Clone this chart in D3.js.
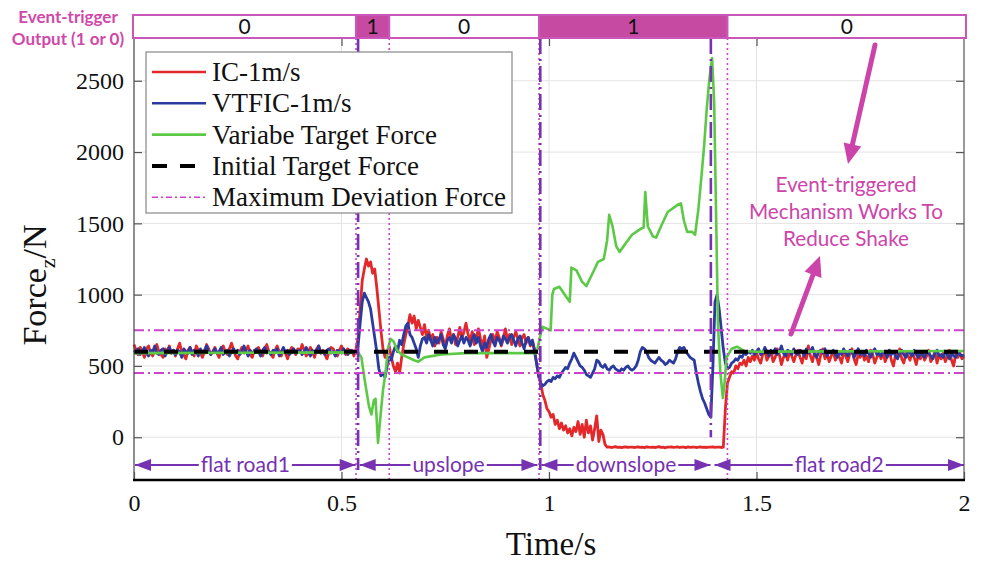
<!DOCTYPE html>
<html><head><meta charset="utf-8">
<script src="https://cdn.jsdelivr.net/npm/d3@7"></script>
<style>html,body{margin:0;padding:0;background:#fff;}svg{display:block;}</style>
</head><body>
<svg id="chart" width="981" height="563"></svg>
<script>
// Vertical contact force, sampled every 5 ms
const sampleStep = 0.005;

// IC controller, 1 m/s
const icForce = [
 650,610,580,630,600,560,620,640,590,570,610,650,600,580,560,620,600,640,590,610,
 570,620,660,600,580,550,610,630,600,570,640,610,590,560,600,650,620,580,600,630,
 590,560,610,640,600,580,620,660,610,570,550,600,630,590,610,640,580,560,610,600,
 630,590,570,620,650,600,580,560,610,640,600,570,620,590,550,600,630,610,580,620,
 600,650,610,570,590,630,600,560,620,640,590,610,580,550,600,630,620,590,570,610,
 640,600,580,620,590,610,570,620,700,900,1100,1180,1250,1200,1230,1150,1180,1050,900,750,
 620,560,600,640,560,500,460,520,450,560,650,720,780,860,800,850,760,820,770,720,
 790,700,750,680,720,640,700,660,740,690,630,710,760,680,720,650,700,770,690,740,
 800,720,680,740,650,700,760,690,640,710,560,620,680,720,660,740,700,640,690,760,
 680,720,650,700,740,690,640,700,720,660,700,640,680,620,520,430,380,300,260,200,
 180,140,160,90,120,60,100,50,80,30,60,10,70,40,110,20,90,0,120,30,
 80,-20,60,150,-30,50,20,-50,-70,-68,-72,-70,-66,-71,-69,-73,-70,-67,-71,-70,
 -69,-72,-70,-67,-71,-70,-73,-68,-70,-71,-69,-72,-70,-66,-71,-70,-74,-69,-70,-68,
 -71,-70,-67,-72,-69,-70,-73,-68,-71,-70,-69,-72,-70,-67,-71,-70,-72,-69,-70,-68,
 -71,-70,-69,-72,-70,200,380,420,460,450,500,480,520,510,540,500,560,530,570,540,
 590,550,520,580,610,540,570,600,530,560,620,580,510,560,590,540,600,570,530,580,
 610,560,520,590,550,640,570,530,600,560,510,580,620,550,590,530,570,600,540,580,
 560,520,600,570,530,590,620,550,510,580,560,600,540,570,530,610,580,520,560,590,
 550,600,530,570,610,540,500,580,560,620,550,520,590,570,540,600,560,510,580,550,
 590,540,570,610,530,560,600,520,580,550,590,530,570,610,540,500,580,560,590,550,
 570
];

// VTFIC controller, 1 m/s
const vtficForce = [
 610,590,620,580,600,630,590,570,610,600,640,590,580,610,620,570,600,630,590,610,
 580,610,600,560,620,600,590,630,580,610,600,570,620,590,610,640,600,580,600,620,
 590,600,630,580,600,610,570,600,620,590,610,580,600,640,600,570,610,590,600,620,
 600,570,610,630,590,600,580,610,600,620,570,600,630,590,610,580,600,620,590,600,
 610,580,600,630,600,570,610,590,600,640,590,600,580,610,620,590,600,570,610,600,
 590,620,600,580,610,600,590,600,640,800,950,1010,980,950,900,800,700,600,480,430,
 450,420,500,560,540,600,640,600,680,650,720,780,800,720,700,660,620,560,640,690,
 700,660,720,680,640,700,660,690,720,650,620,680,700,660,720,690,640,680,710,660,
 700,680,640,690,720,660,700,640,600,660,630,690,720,670,640,700,680,650,710,690,
 660,700,720,680,640,690,710,660,620,680,700,650,680,600,520,430,380,360,370,390,
 400,390,420,410,430,420,450,470,490,480,520,550,590,560,530,500,490,470,440,430,
 420,450,480,540,530,500,490,510,480,470,490,500,480,470,460,480,470,490,500,480,
 470,480,500,540,600,630,620,600,560,540,530,520,540,560,540,530,510,520,540,530,
 520,550,600,630,620,630,600,580,560,550,540,450,380,320,270,240,200,160,140,500,
 950,1000,900,760,620,520,480,490,520,530,550,540,570,560,590,580,600,590,610,580,
 600,620,580,590,630,600,570,610,590,620,580,600,640,590,570,610,600,580,620,590,
 580,610,600,570,620,590,600,630,580,560,600,610,590,620,570,600,590,610,580,560,
 600,580,620,590,570,610,600,560,590,620,580,600,570,610,590,560,600,620,580,590,
 570,600,590,560,610,580,600,570,550,590,610,580,560,600,590,570,610,580,560,590,
 580,560,600,590,570,550,590,610,570,580,560,600,580,550,590,570,560,600,580,570,
 580
];

// Variable target force (time in s, force in N)
const targetTime = [
 0,0.54,0.548,0.556,0.566,0.572,0.578,0.582,0.588,0.594,0.6,0.606,0.612,0.618,0.626,0.634,0.645,0.66,0.675,0.685,
 0.7,0.74,0.8,0.97,0.978,0.984,0.996,1.004,1.008,1.012,1.025,1.04,1.05,1.054,1.066,1.08,1.09,1.105,1.118,1.132,
 1.14,1.145,1.153,1.162,1.17,1.185,1.2,1.22,1.228,1.232,1.238,1.25,1.258,1.27,1.286,1.31,1.318,1.325,1.333,1.345,
 1.352,1.36,1.368,1.374,1.38,1.386,1.393,1.398,1.403,1.407,1.413,1.419,1.423,1.428,1.44,1.453,1.47,1.5,2
];
const targetForce = [
 590,595,560,400,220,160,260,270,-40,150,330,450,620,690,670,610,580,560,540,530,
 560,580,590,590,700,775,760,750,1000,1040,1055,990,950,1190,1170,1090,1060,1150,1230,1250,
 1380,1560,1480,1340,1300,1360,1420,1460,1470,1720,1480,1410,1400,1480,1580,1630,1640,1520,1440,1440,
 1420,1600,1850,2050,2300,2500,2660,2350,1500,800,450,275,380,560,620,635,605,600,605
];

const initialTarget = 600;
const deviationForces = [450, 750];

const xTicks = [0, 0.5, 1, 1.5, 2];
const yTicks = [0, 500, 1000, 1500, 2000, 2500];

// Event-trigger output strip
const triggerBounds = [0, 0.535, 0.615, 0.976, 1.43, 2];
const triggerStates = [0, 1, 0, 1, 0];
const triggerLines = [0.535, 0.615, 0.976, 1.43];

// Road-condition change instants
const eventLines = [0.54, 0.979, 1.39];
const roadNames = ["flat road1", "upslope", "downslope", "flat road2"];
const roadBounds = [0, 0.539, 0.977, 1.394, 2];

const legendItems = ["IC-1m/s", "VTFIC-1m/s", "Variabe Target Force", "Initial Target Force", "Maximum Deviation Force"];

// ---------------------------------------------------------------
const C = {
  red: "#e3282a", blue: "#2b3a9e", green: "#5cc946", black: "#000",
  magenta: "#cc44cc", purple: "#7632b0", pink: "#cc44aa", barFill: "#c64aa2", barEdge: "#cc55bb"
};
const serif = "'Liberation Serif','Times New Roman',serif";
const sans = "Lato,'Open Sans',sans-serif";

const svg = d3.select("#chart");
const pL = 134, pR = 964, pT = 38, pB = 480;
const x = d3.scaleLinear().domain([0, 2]).range([pL, pR]);
const y = d3.scaleLinear().domain([-300, 2800]).range([pB, pT]);

// grid
const g = svg.append("g");
g.selectAll(".gy").data(yTicks).join("line")
  .attr("x1", pL).attr("x2", pR).attr("y1", d => y(d)).attr("y2", d => y(d))
  .attr("stroke", "#e3e3e3").attr("stroke-width", 1);
g.selectAll(".gx").data(xTicks.slice(1, -1)).join("line")
  .attr("x1", d => x(d)).attr("x2", d => x(d)).attr("y1", pT).attr("y2", pB)
  .attr("stroke", "#e3e3e3").attr("stroke-width", 1);

// series
const icData = icForce.map((v, i) => [i * sampleStep, v]);
const vtData = vtficForce.map((v, i) => [i * sampleStep, v]);
const tgData = targetTime.map((t, i) => [t, targetForce[i]]);
const line = d3.line().x(d => x(d[0])).y(d => y(d[1]));

g.append("path").datum(icData).attr("d", line).attr("fill", "none")
  .attr("stroke", C.red).attr("stroke-width", 2.8).attr("stroke-linejoin", "round");
g.append("path").datum(vtData).attr("d", line).attr("fill", "none")
  .attr("stroke", C.blue).attr("stroke-width", 2.8).attr("stroke-linejoin", "round");
g.append("path").datum(tgData).attr("d", line).attr("fill", "none")
  .attr("stroke", C.green).attr("stroke-width", 2.6).attr("stroke-linejoin", "round");

// initial target & deviation band
g.append("line").attr("x1", pL).attr("x2", pR)
  .attr("y1", y(initialTarget)).attr("y2", y(initialTarget))
  .attr("stroke", C.black).attr("stroke-width", 4).attr("stroke-dasharray", "14,16");
g.selectAll(".dev").data(deviationForces).join("line")
  .attr("x1", pL).attr("x2", pR).attr("y1", d => y(d)).attr("y2", d => y(d))
  .attr("stroke", C.magenta).attr("stroke-width", 2).attr("stroke-dasharray", "10,4,2,4");

// vertical markers
g.selectAll(".tl").data(triggerLines).join("line")
  .attr("x1", d => x(d)).attr("x2", d => x(d)).attr("y1", pT).attr("y2", pB)
  .attr("stroke", C.magenta).attr("stroke-width", 1.6).attr("stroke-dasharray", "2,3");
g.selectAll(".el").data(eventLines).join("line")
  .attr("x1", d => x(d)).attr("x2", d => x(d)).attr("y1", pT)
  .attr("y2", (d, i) => i === 2 ? y(0) : pB - 10)
  .attr("stroke", C.purple).attr("stroke-width", 2.6).attr("stroke-dasharray", "16,5,2,5");

// axes box
const ax = svg.append("g").attr("fill", "none");
ax.append("line").attr("x1", pL).attr("x2", pL).attr("y1", pT).attr("y2", pB).attr("stroke", "#444").attr("stroke-width", 1.2);
ax.append("line").attr("x1", pR).attr("x2", pR).attr("y1", pT).attr("y2", pB).attr("stroke", "#555").attr("stroke-width", 1.2);

const yAxisL = svg.append("g").attr("transform", `translate(${pL},0)`)
  .call(d3.axisLeft(y).tickValues(yTicks).tickSizeInner(-8).tickSizeOuter(0).tickPadding(10).tickFormat(d3.format("d")));
const yAxisR = svg.append("g").attr("transform", `translate(${pR},0)`)
  .call(d3.axisRight(y).tickValues(yTicks).tickSizeInner(-8).tickSizeOuter(0).tickFormat(""));
const xAxisB = svg.append("g").attr("transform", `translate(0,${pB})`)
  .call(d3.axisBottom(x).tickValues(xTicks).tickSizeInner(-8).tickSizeOuter(0).tickPadding(14).tickFormat(d3.format("")));
const xAxisT = svg.append("g").attr("transform", `translate(0,${pT})`)
  .call(d3.axisTop(x).tickValues(xTicks.slice(1, -1)).tickSizeInner(-8).tickSizeOuter(0).tickFormat(""));
[yAxisL, yAxisR, xAxisB, xAxisT].forEach(a => {
  a.select(".domain").remove();
  a.selectAll(".tick line").attr("stroke", "#555").attr("stroke-width", 1.2);
  a.selectAll("text").attr("font-family", serif).attr("font-size", 24).attr("fill", "#111");
});
xAxisB.selectAll("text").attr("dy", "0.71em");
svg.append("line").attr("x1", pL - 1).attr("x2", pR + 1).attr("y1", pB).attr("y2", pB)
  .attr("stroke", "#000").attr("stroke-width", 2.6);

// axis titles
svg.append("text").attr("x", 551).attr("y", 555).attr("text-anchor", "middle")
  .attr("font-family", serif).attr("font-size", 33).attr("fill", "#111").text("Time/s");
const yl = svg.append("text").attr("transform", `translate(46,${(pT + pB) / 2 + 26}) rotate(-90)`)
  .attr("text-anchor", "middle").attr("font-family", serif).attr("font-size", 34).attr("fill", "#111");
yl.append("tspan").text("Force");
yl.append("tspan").attr("font-size", 22).attr("dy", 9).text("z");
yl.append("tspan").attr("dy", -9).text("/N");

// road segments
const roadY = pB - 15;
const roads = svg.append("g");
function arrowHead(sel, xt, yt, dir, color, len, half) {
  sel.append("path")
    .attr("d", `M${xt},${yt} L${xt - dir * len},${yt - half} L${xt - dir * len},${yt + half} Z`)
    .attr("fill", color);
}
roadNames.forEach((name, i) => {
  const x0 = x(roadBounds[i]) + (i === 0 ? 1 : 2), x1 = x(roadBounds[i + 1]) - (i === roadNames.length - 1 ? 0 : 2);
  roads.append("line").attr("x1", x0).attr("x2", x1).attr("y1", roadY).attr("y2", roadY)
    .attr("stroke", C.purple).attr("stroke-width", 1.8);
  arrowHead(roads, x0, roadY, -1, C.purple, 16, 6);
  arrowHead(roads, x1, roadY, 1, C.purple, 16, 6);
  const t = roads.append("text").attr("x", (x0 + x1) / 2).attr("y", roadY).attr("dy", "0.33em")
    .attr("text-anchor", "middle").attr("font-family", sans).attr("font-size", 21)
    .attr("fill", C.purple).text(name);
  const bb = t.node().getBBox();
  roads.insert("rect", () => t.node()).attr("x", bb.x - 2).attr("y", roadY - 4).attr("width", bb.width + 4).attr("height", 8).attr("fill", "#fff");
});

// event-trigger strip
const strip = svg.append("g");
const sTop = 15, sBot = pT;
triggerStates.forEach((s, i) => {
  const x0 = x(triggerBounds[i]) - (i === 0 ? 1 : 0), x1 = x(triggerBounds[i + 1]) + (i === triggerStates.length - 1 ? 2 : 0);
  strip.append("rect").attr("x", x0).attr("y", sTop).attr("width", x1 - x0).attr("height", sBot - sTop)
    .attr("fill", s ? C.barFill : "#fff").attr("stroke", C.barEdge).attr("stroke-width", 2);
  strip.append("text").attr("x", (x0 + x1) / 2).attr("y", (sTop + sBot) / 2).attr("dy", "0.36em")
    .attr("text-anchor", "middle").attr("font-family", sans).attr("font-size", 21).attr("fill", "#111").text(s);
});
svg.append("text").attr("x", 68).attr("y", 17).attr("dy", "0.35em").attr("text-anchor", "middle")
  .attr("font-family", sans).attr("font-weight", "bold").attr("font-size", 17).attr("fill", "#d048a8").text("Event-trigger");
svg.append("text").attr("x", 68).attr("y", 39).attr("dy", "0.35em").attr("text-anchor", "middle")
  .attr("font-family", sans).attr("font-weight", "bold").attr("font-size", 17).attr("fill", "#d048a8").text("Output (1 or 0)");

// legend
const lg = svg.append("g");
lg.append("rect").attr("x", 146).attr("y", 52).attr("width", 366).attr("height", 161)
  .attr("fill", "#fff").attr("stroke", "#888").attr("stroke-width", 1.2);
const legendStyle = [
  { c: C.red, w: 2.6, d: null }, { c: C.blue, w: 2.6, d: null }, { c: C.green, w: 2.6, d: null },
  { c: C.black, w: 4, d: "15,13" }, { c: C.magenta, w: 1.6, d: "6,3,2,3" }
];
legendItems.forEach((name, i) => {
  const cy = 72 + i * 31.3;
  lg.append("line").attr("x1", 152).attr("x2", 206).attr("y1", cy).attr("y2", cy)
    .attr("stroke", legendStyle[i].c).attr("stroke-width", legendStyle[i].w)
    .attr("stroke-dasharray", legendStyle[i].d);
  lg.append("text").attr("x", 212).attr("y", cy).attr("dy", "0.33em")
    .attr("font-family", serif).attr("font-size", 27).attr("fill", "#111").text(name);
});

// annotation
const ann = svg.append("g");
["Event-triggered", "Mechanism Works To", "Reduce Shake"].forEach((s, i) => {
  ann.append("text").attr("x", 846).attr("y", 185 + i * 27).attr("dy", "0.35em").attr("text-anchor", "middle")
    .attr("font-family", sans).attr("font-size", 20.7).attr("fill", C.pink).text(s);
});
function bigArrow(x1, y1, x2, y2) {
  const a = Math.atan2(y2 - y1, x2 - x1), L = 20, H = 9;
  const bx = x2 - L * Math.cos(a), by = y2 - L * Math.sin(a);
  ann.append("line").attr("x1", x1).attr("y1", y1).attr("x2", bx).attr("y2", by)
    .attr("stroke", C.pink).attr("stroke-width", 5).attr("stroke-linecap", "round");
  const px = -Math.sin(a) * H, py = Math.cos(a) * H;
  ann.append("path").attr("d", `M${x2},${y2} L${bx + px},${by + py} L${bx - px},${by - py} Z`).attr("fill", C.pink);
}
bigArrow(875, 45, 848, 164);
bigArrow(791, 334, 820, 256);
</script>
</body></html>
